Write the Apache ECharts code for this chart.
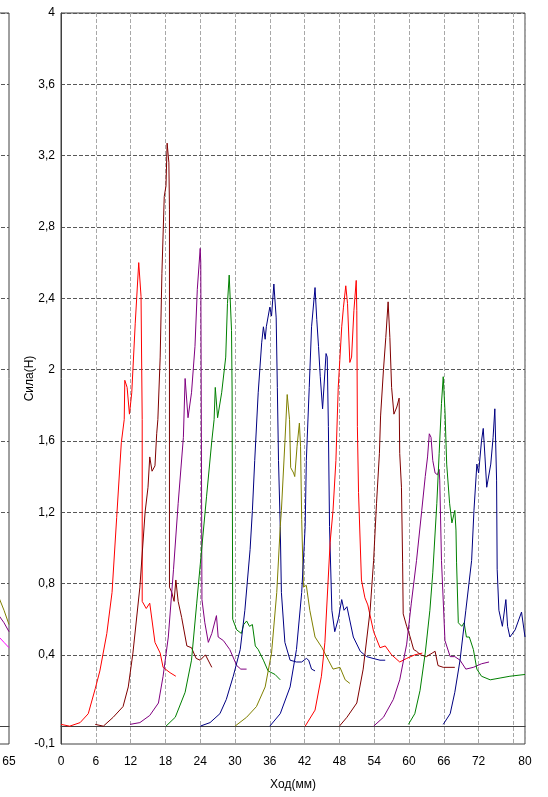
<!DOCTYPE html>
<html>
<head>
<meta charset="utf-8">
<script src="https://cdn.jsdelivr.net/npm/echarts@6/dist/echarts.min.js"></script>
<style>
html,body{margin:0;padding:0;background:#fff;}
#c{width:548px;height:797px;}
</style>
</head>
<body>
<div id="c"></div>
<script>
// ---- data (x: Ход мм, y: Сила Н) ----
const curve1 = [[0,0.01],[1.5,0.0],[3.3,0.02],[4.7,0.07],[5.9,0.21],[6.7,0.31],[7.9,0.52],[8.8,0.75],[9.6,1.17],[10.4,1.59],[10.9,1.72],[11.0,1.94],[11.4,1.90],[11.8,1.75],[12.2,1.87],[12.8,2.26],[13.4,2.60],[13.8,2.41],[14.0,1.72],[14.0,0.70],[14.7,0.66],[15.3,0.69],[16.2,0.47],[17.1,0.41],[17.6,0.33],[18.8,0.30],[19.8,0.28]];
const curve2 = [[5.9,0.01],[7.3,0.0],[9.0,0.05],[10.7,0.11],[11.6,0.22],[12.4,0.41],[13.6,0.78],[14.5,1.20],[15.0,1.34],[15.3,1.51],[15.7,1.43],[16.2,1.46],[16.5,1.64],[16.7,1.72],[17.1,2.07],[17.4,2.54],[17.8,2.97],[18.1,3.03],[18.3,3.27],[18.6,3.16],[18.7,2.9],[18.7,0.78],[19.1,0.75],[19.5,0.70],[19.8,0.82],[20.2,0.70],[20.8,0.61],[21.7,0.45],[22.5,0.44],[23.3,0.38],[24.0,0.37],[24.9,0.40],[26.0,0.33]];
const curve3 = [[11.9,0.01],[13.6,0.02],[15.3,0.06],[16.8,0.13],[17.6,0.28],[18.5,0.50],[19.4,0.88],[20.2,1.25],[21.1,1.62],[21.4,1.95],[21.9,1.73],[22.5,1.87],[23.1,2.13],[23.5,2.45],[24.0,2.68],[24.1,2.6],[24.3,0.71],[24.8,0.58],[25.4,0.47],[26.0,0.52],[26.8,0.62],[27.1,0.50],[28.0,0.48],[29.1,0.43],[30.3,0.34],[31.0,0.32],[32.0,0.32]];
const curve4 = [[18.1,0.0],[19.7,0.05],[21.4,0.19],[22.5,0.37],[23.4,0.69],[24.3,1.01],[25.1,1.29],[26.0,1.60],[26.4,1.72],[26.6,1.90],[27.0,1.73],[27.7,1.87],[28.4,2.07],[28.7,2.37],[29.0,2.53],[29.4,2.22],[29.5,1.88],[29.6,0.60],[30.3,0.54],[31.1,0.52],[31.5,0.57],[32.0,0.59],[32.5,0.56],[33.0,0.57],[33.5,0.45],[34.0,0.43],[34.9,0.37],[35.7,0.31],[36.9,0.29],[37.8,0.26]];
const curve5 = [[24.0,0.0],[25.7,0.02],[27.4,0.07],[28.5,0.15],[29.7,0.28],[30.9,0.43],[31.7,0.65],[32.6,0.99],[33.0,1.21],[33.4,1.49],[34.0,1.87],[34.6,2.15],[34.9,2.24],[35.2,2.17],[35.4,2.24],[36.0,2.35],[36.3,2.30],[36.7,2.48],[37.1,2.29],[37.3,1.90],[37.5,1.49],[37.8,1.12],[38.0,0.75],[38.6,0.47],[39.5,0.37],[40.6,0.36],[41.5,0.36],[42.3,0.38],[42.7,0.37],[43.2,0.32],[43.8,0.31]];
const curve6 = [[30.0,0.0],[32.0,0.05],[33.7,0.11],[35.2,0.22],[36.3,0.41],[37.2,0.75],[37.8,1.12],[38.0,1.21],[38.6,1.59],[39.0,1.86],[39.4,1.72],[39.6,1.45],[40.1,1.42],[40.3,1.40],[40.7,1.57],[41.1,1.70],[41.3,1.57],[41.5,1.16],[41.8,0.78],[42.3,0.79],[42.9,0.65],[43.8,0.50],[45.0,0.44],[46.1,0.37],[46.9,0.32],[48.1,0.33],[49.0,0.26],[49.8,0.24]];
const curve7 = [[36.0,0.0],[37.8,0.07],[39.5,0.22],[40.6,0.43],[41.5,0.75],[42.1,1.12],[42.3,1.49],[42.8,1.90],[43.2,2.24],[43.8,2.46],[44.1,2.28],[44.4,2.13],[44.7,1.96],[45.1,1.78],[45.4,1.77],[45.7,2.09],[45.9,2.07],[46.1,1.68],[46.3,1.12],[46.7,0.65],[47.2,0.53],[47.8,0.60],[48.4,0.71],[48.8,0.65],[49.3,0.67],[50.4,0.50],[51.6,0.42],[52.7,0.39],[53.8,0.38],[55.0,0.37],[55.9,0.37]];
const curve8 = [[42.1,0.0],[43.8,0.09],[44.9,0.28],[45.5,0.47],[46.4,1.03],[46.9,1.21],[47.4,1.49],[47.8,1.90],[48.4,2.24],[48.7,2.35],[49.1,2.47],[49.4,2.37],[49.8,2.04],[50.1,2.07],[50.5,2.33],[50.9,2.50],[51.0,2.33],[51.1,1.68],[51.3,1.31],[51.8,0.82],[52.4,0.72],[52.9,0.68],[53.9,0.53],[55.0,0.44],[55.9,0.45],[57.0,0.40],[58.4,0.36],[59.6,0.38],[61.0,0.40],[62.3,0.41]];
const curve9 = [[48.0,0.0],[49.3,0.05],[51.0,0.13],[52.1,0.32],[53.3,0.65],[53.9,0.93],[54.4,1.25],[54.9,1.53],[55.1,1.74],[55.6,2.0],[56.0,2.18],[56.4,2.38],[56.7,2.18],[57.0,1.90],[57.4,1.75],[57.9,1.79],[58.3,1.84],[58.4,1.53],[58.7,1.34],[58.9,0.92],[59.0,0.63],[59.6,0.56],[60.2,0.50],[60.8,0.43],[61.3,0.42],[62.0,0.40],[63.0,0.39],[64.0,0.41],[64.5,0.42],[65.0,0.34],[65.9,0.33],[67.9,0.33]];
const curve10 = [[53.9,0.0],[55.6,0.05],[57.3,0.15],[58.4,0.26],[59.6,0.46],[60.4,0.69],[61.3,0.93],[62.2,1.21],[62.8,1.40],[63.2,1.51],[63.5,1.64],[63.8,1.62],[64.1,1.49],[64.5,1.42],[64.9,1.41],[65.2,1.44],[65.3,1.38],[65.6,0.93],[66.2,0.48],[67.1,0.39],[67.9,0.39],[68.8,0.37],[69.8,0.32],[71.1,0.33],[72.5,0.35],[73.8,0.36]];
const curve11 = [[59.9,0.01],[61.0,0.07],[61.9,0.20],[62.8,0.41],[63.6,0.65],[64.1,0.86],[64.8,1.25],[65.2,1.53],[65.6,1.81],[65.9,1.96],[66.2,1.77],[66.5,1.47],[67.0,1.25],[67.4,1.14],[67.9,1.21],[68.1,1.10],[68.2,0.92],[68.5,0.58],[69.1,0.56],[69.5,0.58],[69.9,0.50],[70.4,0.50],[71.1,0.43],[71.7,0.32],[72.5,0.28],[74.0,0.26],[75.7,0.27],[77.4,0.28],[80.0,0.29]];
const curve12 = [[65.9,0.01],[67.1,0.07],[67.9,0.19],[68.8,0.37],[69.8,0.65],[70.8,0.93],[71.2,1.21],[71.7,1.47],[72.0,1.42],[72.5,1.60],[72.8,1.67],[73.1,1.51],[73.4,1.34],[73.7,1.35],[74.1,1.47],[74.5,1.62],[74.8,1.78],[75.1,1.38],[75.2,0.88],[75.5,0.65],[76.1,0.56],[76.7,0.71],[77.0,0.56],[77.4,0.50],[78.3,0.54],[79.4,0.64],[80.0,0.50]];
// partial neighbouring chart at the left edge
const leftOlive = [[62.8,0.75],[63.6,0.72],[64.3,0.65],[65.0,0.57]];
const leftPurple = [[62.8,0.63],[63.6,0.62],[64.3,0.58],[65.0,0.53]];
const leftMagenta = [[62.8,0.48],[63.6,0.50],[64.3,0.47],[65.0,0.44]];

const curves = [curve1,curve2,curve3,curve4,curve5,curve6,curve7,curve8,curve9,curve10,curve11,curve12];
const curveColors = ['#ff0000','#800000','#800080','#008000','#000080','#808000','#00008b','#ff0000','#800000','#800080','#008000','#000080'];
const leftCurves = [leftOlive, leftPurple, leftMagenta];
const leftColors = ['#808000','#800080','#ff00ff'];

const xTickLabels = [0,6,12,18,24,30,36,42,48,54,60,66,72,80];
const yGridValues = [0,0.4,0.8,1.2,1.6,2,2.4,2.8,3.2,3.6,4];
const yTickLabels = [-0.1,0.4,0.8,1.2,1.6,2,2.4,2.8,3.2,3.6,4];

const font = 'Liberation Sans, Arial, sans-serif';
const hGrid = {show:true, lineStyle:{color:'#585858', type:[4,2], width:1}};
const vGrid = {show:true, lineStyle:{color:'#a8a8a8', type:[4,2], width:1}};

const series = [];
curves.forEach((c,i)=>{
  series.push({type:'line', xAxisIndex:0, yAxisIndex:0, data:c, showSymbol:false, symbol:'none',
    lineStyle:{color:curveColors[i], width:1}, itemStyle:{color:curveColors[i]}, animation:false});
});
leftCurves.forEach((c,i)=>{
  series.push({type:'line', xAxisIndex:1, yAxisIndex:1, data:c, showSymbol:false, symbol:'none',
    lineStyle:{color:leftColors[i], width:1}, animation:false});
});

const chart = echarts.init(document.getElementById('c'), null, {renderer:'canvas'});
chart.setOption({
  animation:false,
  backgroundColor:'#ffffff',
  grid:[
    {left:61, right:23, top:13, bottom:53, show:true, borderColor:'#404040', borderWidth:1, containLabel:false, outerBoundsMode:'none'},
    {left:-455, right:539, top:13, bottom:53, show:true, borderColor:'#404040', borderWidth:1, containLabel:false, outerBoundsMode:'none'}
  ],
  xAxis:[
    {type:'value', gridIndex:0, min:0, max:80, interval:6,
     name:'Ход(мм)', nameLocation:'middle', nameGap:35,
     nameTextStyle:{fontFamily:font, fontSize:12, color:'#000'},
     axisLine:{show:true, lineStyle:{color:'#404040'}}, axisTick:{show:false},
     axisLabel:{fontFamily:font, fontSize:12, color:'#000', margin:12,
       formatter:v=> xTickLabels.indexOf(v)>=0 ? String(v) : ''},
     splitLine:vGrid},
    {type:'value', gridIndex:1, min:0, max:65, interval:5,
     axisLine:{show:true, lineStyle:{color:'#404040'}}, axisTick:{show:false},
     axisLabel:{fontFamily:font, fontSize:12, color:'#000', margin:12,
       formatter:v=> v===65 ? '65' : ''},
     splitLine:{show:false}}
  ],
  yAxis:[
    {type:'value', gridIndex:0, min:-0.1, max:4, interval:0.1,
     name:'Сила(Н)', nameLocation:'middle', nameGap:25, nameRotate:90, nameMoveOverlap:false,
     nameTextStyle:{fontFamily:font, fontSize:12, color:'#000'},
     axisLine:{show:true, lineStyle:{color:'#404040'}},
     axisTick:{show:false, customValues:yGridValues},
     axisLabel:{fontFamily:font, fontSize:12, color:'#000', margin:6, customValues:yTickLabels,
       formatter:v=> String(Math.round(v*10)/10).replace('.',',')},
     splitLine:hGrid},
    {type:'value', gridIndex:1, min:-0.1, max:4, interval:0.1,
     axisLine:{show:false}, axisTick:{show:false, customValues:yGridValues}, axisLabel:{show:false},
     splitLine:hGrid}
  ],
  series:series
});
</script>
</body>
</html>
